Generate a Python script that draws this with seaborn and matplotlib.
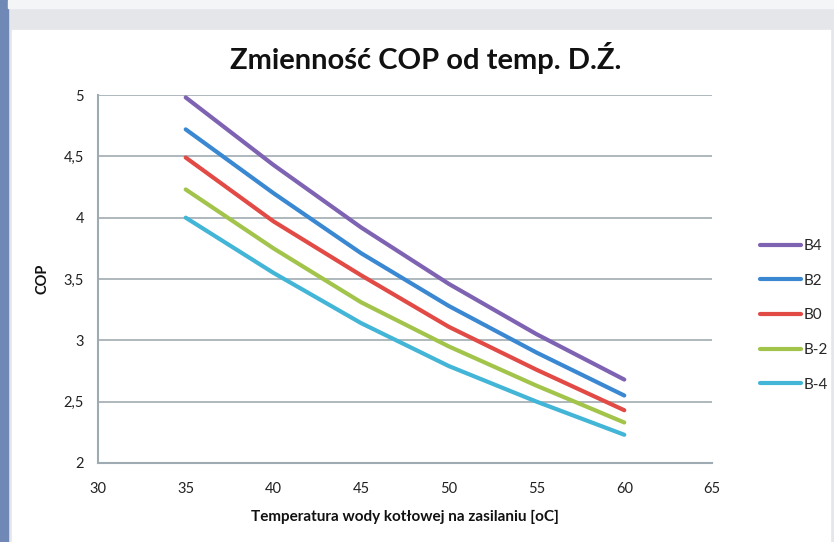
import pandas as pd
import matplotlib
matplotlib.use('Agg')
import matplotlib.pyplot as plt
import seaborn as sns
from matplotlib.patches import Rectangle

# data
temps = [35, 40, 45, 50, 55, 60]
cop_b4 = [4.98, 4.43, 3.92, 3.46, 3.05, 2.68]
cop_b2 = [4.72, 4.20, 3.71, 3.28, 2.90, 2.55]
cop_b0 = [4.49, 3.97, 3.53, 3.11, 2.76, 2.43]
cop_bm2 = [4.23, 3.75, 3.31, 2.95, 2.63, 2.33]
cop_bm4 = [4.00, 3.55, 3.14, 2.79, 2.50, 2.23]
series = ["B4", "B2", "B0", "B-2", "B-4"]
colors = ["#7F63B3", "#3A88D2", "#E24A45", "#A2C44B", "#43B5D6"]
y_ticks = [2, 2.5, 3, 3.5, 4, 4.5, 5]
y_labels = ["2", "2,5", "3", "3,5", "4", "4,5", "5"]
x_ticks = [30, 35, 40, 45, 50, 55, 60, 65]

df = pd.concat([
    pd.DataFrame({"temp": temps, "cop": vals, "series": name})
    for name, vals in zip(series, [cop_b4, cop_b2, cop_b0, cop_bm2, cop_bm4])
])

sns.set_theme(style="white")
plt.rcParams['font.family'] = ['Lato', 'DejaVu Sans']

fig = plt.figure(figsize=(8.34, 5.42), dpi=100)
# frame around the chart like the screenshot
fig.patches.append(Rectangle((0, 0), 1, 1, transform=fig.transFigure, color="#E4E6EA", zorder=-3))
fig.patches.append(Rectangle((0, 0), 0.010, 1, transform=fig.transFigure, color="#6F88B5", zorder=-2))
fig.patches.append(Rectangle((0.014, 0), 0.981, 0.945, transform=fig.transFigure, color="white", zorder=-2))
fig.patches.append(Rectangle((0.010, 0.985), 0.99, 0.015, transform=fig.transFigure, color="#F4F5F7", zorder=-2))

ax = fig.add_axes([0.1175, 0.1458, 0.7362, 0.6789])
ax.set_facecolor("none")
sns.lineplot(data=df, x="temp", y="cop", hue="series", palette=colors,
             hue_order=series, linewidth=3, ax=ax, legend=True)

ax.set_xlim(30, 65)
ax.set_ylim(2, 5)
ax.set_xticks(x_ticks)
ax.set_yticks(y_ticks)
ax.set_yticklabels(y_labels)
ax.tick_params(axis="both", length=0, labelsize=10.5, colors="#222222")
ax.tick_params(axis="x", pad=14)
ax.tick_params(axis="y", pad=10)
ax.yaxis.grid(True, color="#9FABB2", linewidth=1.2)
for s in ["top", "right"]:
    ax.spines[s].set_visible(False)
for s in ["left", "bottom"]:
    ax.spines[s].set_color("#9FABB2")
    ax.spines[s].set_linewidth(1.5)

ax.set_xlabel("Temperatura wody kotłowej na zasilaniu [oC]", fontsize=11, fontweight="bold",
              color="#111111", labelpad=10)
ax.set_ylabel("COP", fontsize=10.5, fontweight="bold", color="#111111", labelpad=10)

fig.text(0.51, 0.893, "Zmienność COP od temp. D.Ź.", ha="center", va="center",
         fontsize=21, fontweight="bold", color="#111111")

leg = ax.legend(loc="upper left", bbox_to_anchor=(0.895, 0.584), bbox_transform=fig.transFigure,
                frameon=False, fontsize=11, handlelength=2.7, handletextpad=0.15,
                labelspacing=1.35)
for line in leg.get_lines():
    line.set_linewidth(3)

fig.savefig("out.png", dpi=100)
